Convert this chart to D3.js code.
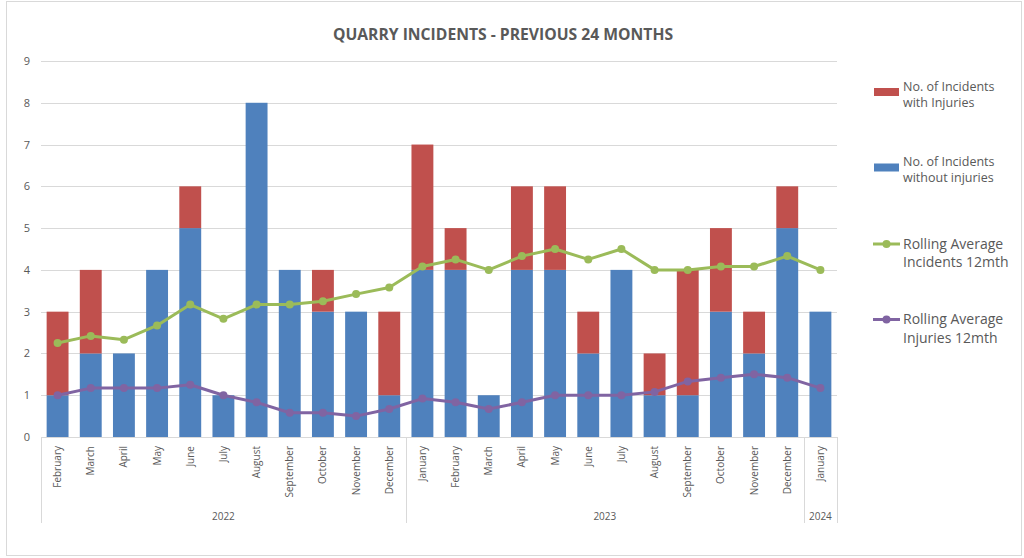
<!DOCTYPE html>
<html>
<head>
<meta charset="utf-8">
<script src="https://cdn.jsdelivr.net/npm/d3@7"></script>
<style>
  body { margin: 0; background: #fff; }
  text { font-family: "Open Sans", sans-serif; fill: #595959; }
</style>
</head>
<body>
<div id="chart"></div>
<script>
var svgWidth = 1024;
var svgHeight = 558;

// Data
var months = ["February", "March", "April", "May", "June", "July", "August", "September",
    "October", "November", "December", "January", "February", "March", "April", "May",
    "June", "July", "August", "September", "October", "November", "December", "January"];
var years = ["2022", "2022", "2022", "2022", "2022", "2022", "2022", "2022", "2022", "2022", "2022",
    "2023", "2023", "2023", "2023", "2023", "2023", "2023", "2023", "2023", "2023", "2023", "2023",
    "2024"];
var withoutInjuries = [1, 2, 2, 4, 5, 1, 8, 4, 3, 3, 1, 4, 4, 1, 4, 4, 2, 4, 1, 1, 3, 2, 5, 3];
var withInjuries = [2, 2, 0, 0, 1, 0, 0, 0, 1, 0, 2, 3, 1, 0, 2, 2, 1, 0, 1, 3, 2, 1, 1, 0];
var rollingIncidents = [2.25, 2.42, 2.33, 2.67, 3.17, 2.83, 3.17, 3.17, 3.25, 3.42, 3.58, 4.08,
    4.25, 4.0, 4.33, 4.5, 4.25, 4.5, 4.0, 4.0, 4.08, 4.08, 4.33, 4.0];
var rollingInjuries = [1.0, 1.17, 1.17, 1.17, 1.25, 1.0, 0.83, 0.58, 0.58, 0.5, 0.67, 0.92,
    0.83, 0.67, 0.83, 1.0, 1.0, 1.0, 1.08, 1.33, 1.42, 1.5, 1.42, 1.17];
var yTicks = [0, 1, 2, 3, 4, 5, 6, 7, 8, 9];

var colors = {
    without: "#4F81BD",
    with: "#C0504D",
    incidents: "#9BBB59",
    injuries: "#8064A2"
};

var plot = { left: 41, right: 837, top: 61, bottom: 437 };

var svg = d3.select("#chart")
    .append("svg")
    .attr("width", svgWidth)
    .attr("height", svgHeight);

// Outer chart border
svg.append("rect")
    .attr("x", 6.5).attr("y", 1.5)
    .attr("width", 1015).attr("height", 554)
    .attr("fill", "#fff")
    .attr("stroke", "#d9d9d9");

// Title
svg.append("text")
    .attr("x", 503)
    .attr("y", 40)
    .attr("text-anchor", "middle")
    .attr("font-size", "15.7px")
    .attr("font-weight", "bold")
    .text("QUARRY INCIDENTS - PREVIOUS 24 MONTHS");

var table = months.map(function (m, i) {
    return {
        key: i,
        month: m,
        year: years[i],
        without: withoutInjuries[i],
        with: withInjuries[i],
        incidents: rollingIncidents[i],
        injuries: rollingInjuries[i]
    };
});

var xScale = d3.scaleBand()
    .domain(table.map(d => d.key))
    .range([plot.left, plot.right])
    .paddingInner(0.34)
    .paddingOuter(0.17);

var yScale = d3.scaleLinear()
    .domain([0, 9])
    .range([plot.bottom, plot.top]);

// Gridlines
svg.append("g")
    .selectAll("line")
    .data(yTicks)
    .enter()
    .append("line")
    .attr("x1", plot.left)
    .attr("x2", plot.right)
    .attr("y1", d => Math.round(yScale(d)) + 0.5)
    .attr("y2", d => Math.round(yScale(d)) + 0.5)
    .attr("stroke", "#d9d9d9")
    .attr("stroke-width", 1);

// Y axis labels
var leftAxis = d3.axisLeft(yScale).tickValues(yTicks).tickSize(0).tickPadding(11);
var yAxisGroup = svg.append("g")
    .attr("transform", `translate(${plot.left}, 0)`)
    .call(leftAxis);
yAxisGroup.select(".domain").remove();
yAxisGroup.selectAll("text")
    .attr("font-size", "11px")
    .attr("font-family", "Open Sans, sans-serif")
    .attr("fill", "#595959");

// Stacked bars
var stack = d3.stack().keys(["without", "with"]);
var series = stack(table);

svg.append("g")
    .selectAll("g")
    .data(series)
    .enter()
    .append("g")
    .attr("fill", d => colors[d.key])
    .selectAll("rect")
    .data(d => d)
    .enter()
    .append("rect")
    .attr("x", d => xScale(d.data.key))
    .attr("y", d => yScale(d[1]))
    .attr("width", xScale.bandwidth())
    .attr("height", d => yScale(d[0]) - yScale(d[1]));

// Category axis: months
var bottomAxis = d3.axisBottom(xScale).tickSize(0).tickFormat(k => months[k]);
var xAxisGroup = svg.append("g")
    .attr("transform", `translate(0, ${plot.bottom})`)
    .call(bottomAxis);
xAxisGroup.select(".domain").remove();
xAxisGroup.selectAll("text")
    .attr("font-size", "10px")
    .attr("font-family", "Open Sans, sans-serif")
    .attr("fill", "#595959")
    .attr("text-anchor", "end")
    .attr("transform", "rotate(-90)")
    .attr("x", -9)
    .attr("y", 0)
    .attr("dy", "0.35em");

// Year groups
var groups = [];
table.forEach(function (d) {
    var last = groups[groups.length - 1];
    if (!last || last.year !== d.year) {
        groups.push({ year: d.year, first: d.key, last: d.key });
    } else {
        last.last = d.key;
    }
});
var step = xScale.step();
var groupStart = g => xScale(g.first) - xScale.paddingInner() * step / 2;
var groupEnd = g => xScale(g.last) + xScale.bandwidth() + xScale.paddingInner() * step / 2;

var bounds = [plot.left].concat(groups.map(g => Math.min(groupEnd(g), plot.right)));
svg.append("g")
    .selectAll("line")
    .data(bounds)
    .enter()
    .append("line")
    .attr("x1", d => Math.round(d) + 0.5)
    .attr("x2", d => Math.round(d) + 0.5)
    .attr("y1", plot.bottom)
    .attr("y2", 523)
    .attr("stroke", "#d9d9d9");

svg.append("g")
    .selectAll("text")
    .data(groups)
    .enter()
    .append("text")
    .attr("x", g => (Math.max(groupStart(g), plot.left) + Math.min(groupEnd(g), plot.right)) / 2)
    .attr("y", 520)
    .attr("text-anchor", "middle")
    .attr("font-size", "10px")
    .text(g => g.year);

// Rolling average lines
var cx = d => xScale(d.key) + xScale.bandwidth() / 2;
["incidents", "injuries"].forEach(function (k) {
    var line = d3.line().x(cx).y(d => yScale(d[k]));
    svg.append("path")
        .datum(table)
        .attr("fill", "none")
        .attr("stroke", colors[k])
        .attr("stroke-width", 3)
        .attr("stroke-linejoin", "round")
        .attr("d", line);
    svg.append("g")
        .selectAll("circle")
        .data(table)
        .enter()
        .append("circle")
        .attr("cx", cx)
        .attr("cy", d => yScale(d[k]))
        .attr("r", 4)
        .attr("fill", colors[k]);
});

// Legend
var legendItems = [
    { key: "with", type: "bar", y: 92, lines: ["No. of Incidents", "with Injuries"], size: 12.5, lh: 16 },
    { key: "without", type: "bar", y: 167.5, lines: ["No. of Incidents", "without injuries"], size: 12.5, lh: 16 },
    { key: "incidents", type: "line", y: 244, lines: ["Rolling Average", "Incidents 12mth"], size: 14, lh: 18 },
    { key: "injuries", type: "line", y: 319.5, lines: ["Rolling Average", "Injuries 12mth"], size: 14, lh: 18.5 }
];

var legend = svg.append("g");
legendItems.forEach(function (item) {
    var g = legend.append("g");
    if (item.type === "bar") {
        g.append("rect")
            .attr("x", 874).attr("y", item.y - 4)
            .attr("width", 25).attr("height", 8)
            .attr("fill", colors[item.key]);
    } else {
        g.append("line")
            .attr("x1", 873).attr("x2", 900)
            .attr("y1", item.y).attr("y2", item.y)
            .attr("stroke", colors[item.key])
            .attr("stroke-width", 3);
        g.append("circle")
            .attr("cx", 886.5).attr("cy", item.y)
            .attr("r", 4)
            .attr("fill", colors[item.key]);
    }
    var firstCenter = item.type === "bar" ? item.y - 5.5 : item.y;
    var label = g.append("text")
        .attr("x", 903)
        .attr("y", firstCenter)
        .attr("font-size", item.size + "px");
    item.lines.forEach(function (t, i) {
        label.append("tspan")
            .attr("x", 903)
            .attr("y", firstCenter + i * item.lh)
            .attr("dy", "0.35em")
            .text(t);
    });
});
</script>
</body>
</html>
